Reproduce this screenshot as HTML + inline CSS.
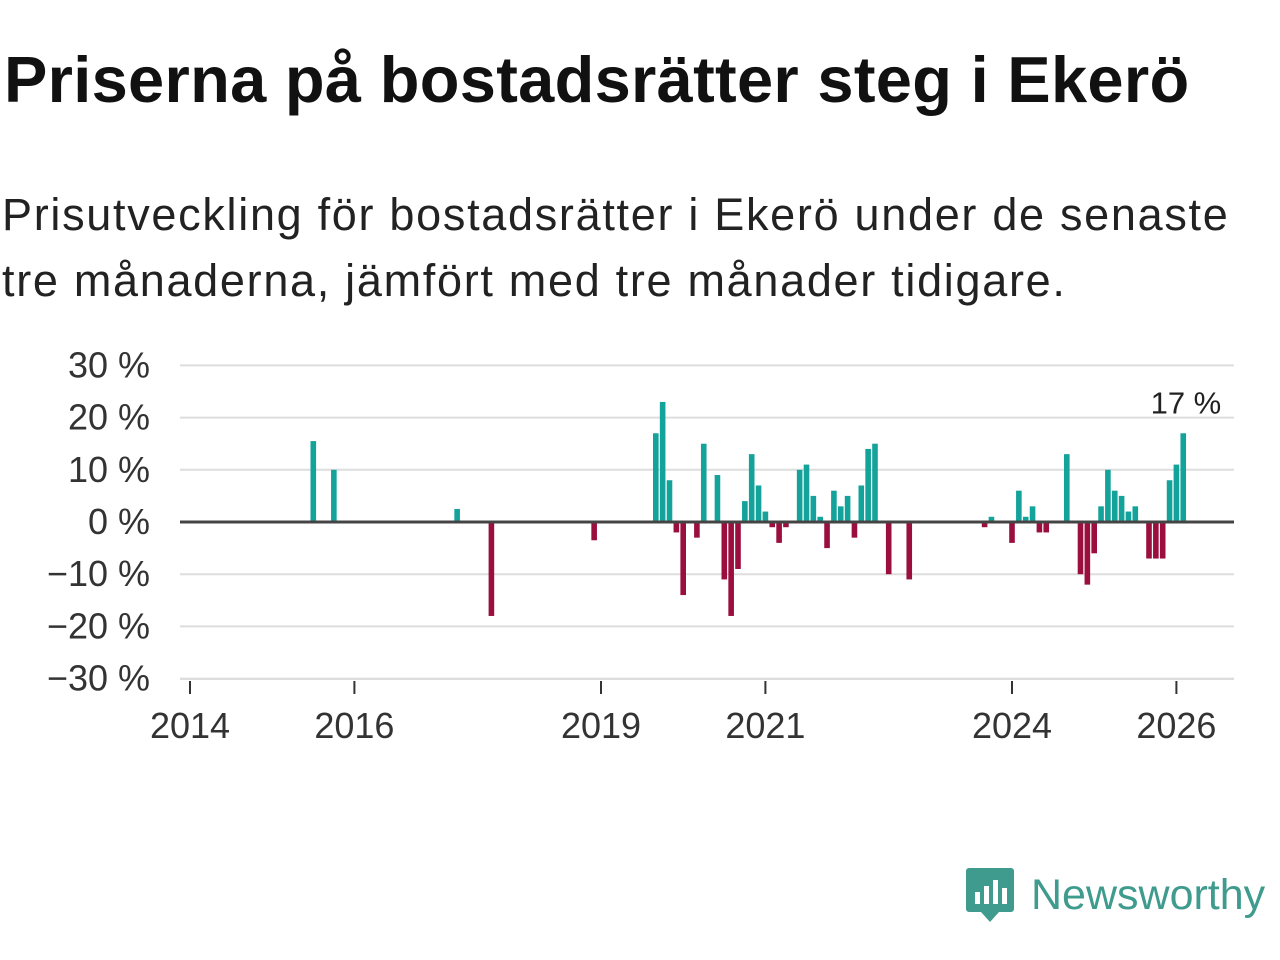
<!DOCTYPE html>
<html><head><meta charset="utf-8"><style>
body{margin:0;width:1280px;height:960px;background:#fff;font-family:"Liberation Sans","DejaVu Sans",sans-serif;overflow:hidden;position:relative}
h1{position:absolute;left:4px;top:42px;margin:0;font-size:65px;font-weight:bold;color:#111;letter-spacing:0.3px;white-space:nowrap}
p{position:absolute;left:2px;top:182px;margin:0;font-size:45px;line-height:66px;color:#222;width:1255px;letter-spacing:1.7px}
</style></head><body>
<h1>Priserna på bostadsrätter steg i Ekerö</h1>
<p>Prisutveckling för bostadsrätter i Ekerö under de senaste tre månaderna, jämfört med tre månader tidigare.</p>
<svg id="chart" width="1280" height="960" style="position:absolute;left:0;top:0"></svg>
<div style="position:absolute;left:965px;top:866px;display:flex;align-items:center">
<svg width="50" height="58" viewBox="0 0 50 58"><path d="M4 2h42a3 3 0 0 1 3 3v38a3 3 0 0 1-3 3H34l-9 10-9-10H4a3 3 0 0 1-3-3V5a3 3 0 0 1 3-3z" fill="#3e9b8d"/><rect x="10" y="26" width="5" height="12" fill="#fff"/><rect x="19" y="20" width="5" height="18" fill="#fff"/><rect x="28" y="14" width="5" height="24" fill="#fff"/><rect x="37" y="22" width="5" height="16" fill="#fff"/></svg>
<span style="font-size:43px;color:#3e9b8d;margin-left:16px;font-weight:500">Newsworthy</span></div>
<script>
const months=[18,21,39,44,59,68,69,70,71,72,74,75,77,78,79,80,81,82,83,84,85,86,87,89,90,91,92,93,94,95,96,97,98,99,100,102,105,116,117,120,121,122,123,124,125,128,130,131,132,133,134,135,136,137,138,140,141,142,143,144,145];
const values=[15.5,10,2.5,-18,-3.5,17,23,8,-2,-14,-3,15,9,-11,-18,-9,4,13,7,2,-1,-4,-1,10,11,5,1,-5,6,3,5,-3,7,14,15,-10,-11,-1,1,-4,6,1,3,-2,-2,13,-10,-12,-6,3,10,6,5,2,3,-7,-7,-7,8,11,17];
const yTicks=[30,20,10,0,-10,-20,-30];
const xTickMonths=[0,24,60,84,120,144];
const xTickLabels=["2014","2016","2019","2021","2024","2026"];
const svg=document.getElementById('chart');const NS='http://www.w3.org/2000/svg';
const xs=m=>190+m*6.85, ys=v=>522-v*5.22;
function mk(t,a){const e=document.createElementNS(NS,t);for(const k in a)e.setAttribute(k,a[k]);svg.appendChild(e);return e;}
yTicks.forEach(v=>{
 const l=mk('line',{x1:180,x2:1234,y1:ys(v),y2:ys(v),stroke:'#ddd','stroke-width':2});
 
 
 const t=mk('text',{x:150,y:ys(v)+12,'text-anchor':'end','font-size':36,fill:'#333','font-family':'Liberation Sans, sans-serif'});
 t.textContent=(v<0?'\u2212'+(-v):v)+' %';
 
 
});
months.forEach((m,i)=>{const v=values[i];
 const r=mk('rect',{x:xs(m)-2.8,width:5.6,y:v>=0?ys(v):ys(0),height:Math.abs(ys(v)-ys(0)),fill:v>=0?'#13a39a':'#9b0f3f'});
 
 
});
const z=mk('line',{x1:180,x2:1234,y1:ys(0),y2:ys(0),stroke:'#444','stroke-width':3});


const ax=mk('line',{x1:180,x2:1234,y1:679,y2:679,stroke:'#ddd','stroke-width':2});


xTickMonths.forEach((m,i)=>{
 const tk=mk('line',{x1:xs(m),x2:xs(m),y1:681,y2:694,stroke:'#333','stroke-width':2});
 
 
 const t=mk('text',{x:xs(m),y:738,'text-anchor':'middle','font-size':36,fill:'#333','font-family':'Liberation Sans, sans-serif'});
 t.textContent=xTickLabels[i];
 
 
});
const li=values.length-1;
const lab=mk('text',{x:xs(months[li])+38,y:ys(values[li])-20,'text-anchor':'end','font-size':31,fill:'#222','font-family':'Liberation Sans, sans-serif'});
lab.textContent=values[li]+' %';


</script>
</body></html>
